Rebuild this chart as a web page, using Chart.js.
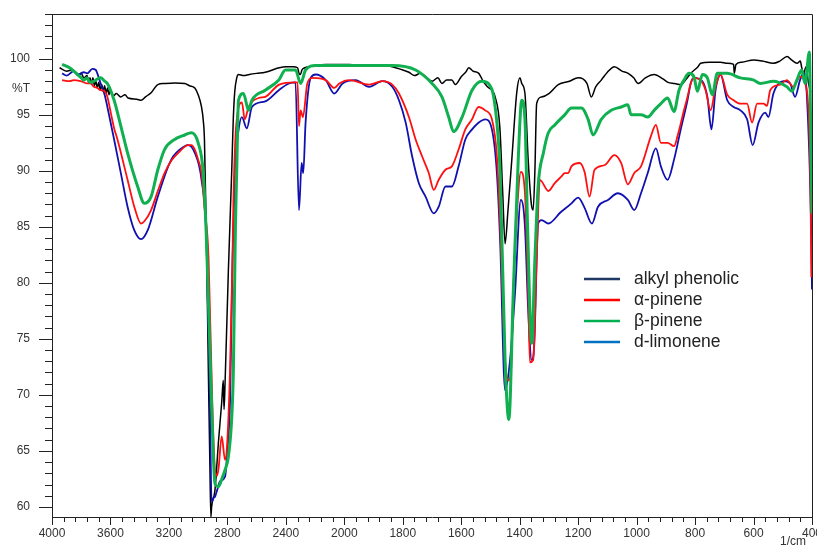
<!DOCTYPE html>
<html>
<head>
<meta charset="utf-8">
<script src="https://cdn.jsdelivr.net/npm/chart.js@4.4.1/dist/chart.umd.min.js"></script>
<style>
  html, body { margin: 0; padding: 0; background: #fff; }
  #wrap { width: 817px; height: 545px; }
</style>
</head>
<body>
<div id="wrap"><canvas id="irChart"></canvas></div>
<script>
// names shown in the legend
const seriesNames = ['alkyl phenolic', 'α-pinene', 'β-pinene', 'd-limonene'];
// axis labels
const xTickLabels = [4000, 3600, 3200, 2800, 2400, 2000, 1800, 1600, 1400, 1200, 1000, 800, 600, 400];
const yTickLabels = [60, 65, 70, 75, 80, 85, 90, 95, 100];

// alkyl phenolic (black)
const phenolicWn = [3948, 3900, 3860, 3820, 3800, 3782, 3760, 3750, 3740, 3730, 3720, 3710, 3700, 3690, 3680, 3670, 3660, 3650, 3640, 3630, 3620, 3610, 3600, 3580, 3560, 3530, 3500, 3480, 3420, 3390, 3360, 3320, 3276, 3230, 3160, 3092, 3060, 3023, 3000, 2977, 2965, 2957, 2943, 2930, 2920, 2913, 2908, 2885, 2860, 2839, 2828, 2823, 2816, 2793, 2770, 2760, 2750, 2736, 2724, 2690, 2650, 2600, 2541, 2446, 2400, 2350, 2320, 2310, 2300, 2290, 2270, 2200, 2127, 1983, 1930, 1870, 1836, 1800, 1779, 1760, 1740, 1722, 1700, 1680, 1666, 1650, 1632, 1620, 1600, 1585, 1574, 1560, 1540, 1525, 1510, 1484, 1468, 1458, 1450, 1440, 1427, 1410, 1399, 1393, 1382, 1371, 1360, 1354, 1348, 1342, 1325, 1300, 1268, 1230, 1200, 1170, 1155, 1140, 1121, 1100, 1076, 1050, 1029, 1010, 995, 970, 940, 910, 893, 870, 849, 830, 815, 790, 781, 750, 713, 690, 668, 666, 660, 640, 599, 570, 532, 510, 485, 470, 451, 440, 435, 429, 420, 412, 404];
const phenolicT = [99.2, 98.9, 99.0, 98.5, 98.7, 98.3, 98.5, 97.9, 98.3, 97.7, 98.3, 97.6, 98.0, 97.4, 97.9, 97.2, 97.7, 97.1, 97.6, 96.9, 97.4, 96.8, 97.2, 96.7, 96.9, 96.6, 96.8, 96.5, 96.4, 96.3, 96.6, 97.0, 97.7, 97.8, 97.85, 97.8, 97.6, 97.4, 96.8, 95.7, 94.5, 92.8, 83.8, 72, 64, 59.1, 60.0, 61.5, 66, 69.3, 71.3, 68.7, 71, 81.2, 90.1, 94.5, 97.0, 98.3, 98.6, 98.5, 98.6, 98.7, 98.8, 99.2, 99.3, 99.3, 99.2, 98.7, 98.6, 99.0, 99.2, 99.4, 99.5, 99.5, 99.4, 99.4, 99.3, 99.0, 98.8, 98.5, 98.7, 98.4, 98.0, 98.3, 97.8, 98.1, 98.1, 97.7, 98.4, 98.8, 99.2, 98.9, 98.7, 98.0, 97.5, 96.6, 93.9, 88.0, 83.5, 86.5, 91.0, 97.0, 98.3, 97.8, 96.9, 91.0, 87, 86.5, 90, 96.0, 96.6, 96.9, 97.7, 98.0, 98.3, 97.8, 96.6, 97.5, 98.1, 98.8, 99.3, 98.9, 98.7, 98.3, 97.8, 98.3, 98.6, 98.2, 97.9, 97.8, 97.7, 98.2, 98.7, 99.3, 99.6, 99.7, 99.7, 99.6, 99.5, 98.7, 99.5, 99.7, 99.9, 99.8, 99.6, 99.8, 100.2, 99.9, 99.6, 99.8, 99.2, 98.7, 99.3, 97.8, 97.0];

// α-pinene (red)
const alphaWn = [3931, 3880, 3851, 3805, 3782, 3760, 3736, 3713, 3690, 3667, 3640, 3621, 3598, 3575, 3552, 3483, 3437, 3391, 3368, 3322, 3276, 3230, 3184, 3136, 3069, 3046, 3023, 3000, 2977, 2957, 2929, 2905, 2885, 2870, 2860, 2839, 2816, 2800, 2782, 2765, 2759, 2740, 2701, 2681, 2655, 2586, 2541, 2446, 2334, 2320, 2310, 2299, 2283, 2253, 2219, 2127, 2069, 2034, 1983, 1915, 1870, 1836, 1813, 1779, 1756, 1734, 1711, 1694, 1677, 1654, 1632, 1609, 1586, 1563, 1541, 1518, 1495, 1478, 1467, 1450, 1439, 1430, 1422, 1405, 1396, 1382, 1371, 1365, 1354, 1342, 1331, 1302, 1280, 1257, 1246, 1234, 1223, 1195, 1178, 1161, 1144, 1110, 1076, 1053, 1030, 1008, 985, 951, 934, 917, 894, 872, 860, 838, 826, 815, 804, 781, 764, 747, 730, 713, 690, 668, 645, 622, 605, 588, 566, 554, 543, 509, 486, 464, 441, 418, 406, 402, 400];
const alphaT = [98.1, 98.0, 98.1, 98.0, 97.9, 97.8, 97.8, 97.5, 97.4, 97.2, 97.1, 96.6, 95.2, 93.8, 92.8, 89.2, 86.8, 85.3, 85.5, 86.5, 88.2, 89.8, 90.9, 91.6, 92.3, 92.3, 91.9, 91.0, 89.8, 86.8, 82.3, 70, 63.3, 62.8, 63.5, 66.3, 64.2, 66, 72.2, 82, 87.1, 94, 96.1, 94.6, 95.7, 96.5, 96.6, 97.7, 97.9, 97.9, 94.0, 95.4, 94.8, 97.8, 98.3, 98.1, 97.4, 97.8, 98.1, 97.7, 98.0, 97.7, 96.9, 94.8, 92.8, 91.3, 89.8, 88.3, 89.2, 90.1, 90.4, 91.9, 93.7, 94.6, 95.7, 95.4, 94.6, 91.3, 85.3, 73.1, 71.3, 72, 79.1, 88.0, 89.9, 88.0, 79.1, 72.9, 73.1, 82.1, 89.2, 88.2, 88.9, 89.5, 89.8, 89.8, 90.4, 90.7, 89.9, 87.7, 90.1, 90.5, 91.4, 90.7, 88.8, 89.8, 90.4, 93.1, 94.1, 92.5, 92.5, 92.2, 93.1, 95.4, 96.6, 97.8, 98.3, 98.1, 97.2, 95.4, 97.5, 98.6, 96.8, 96.3, 96.0, 96.0, 94.3, 96.0, 96.0, 95.8, 97.2, 97.7, 98.1, 97.5, 98.4, 97.2, 90, 80.5];

// β-pinene (green)
const betaWn = [3931, 3880, 3851, 3800, 3782, 3760, 3740, 3713, 3690, 3667, 3640, 3621, 3575, 3529, 3483, 3414, 3368, 3322, 3276, 3230, 3161, 3092, 3046, 3000, 2965, 2943, 2910, 2885, 2862, 2830, 2816, 2793, 2770, 2759, 2745, 2736, 2724, 2690, 2655, 2632, 2541, 2448, 2403, 2334, 2299, 2265, 2196, 2069, 1983, 1836, 1756, 1700, 1666, 1643, 1626, 1597, 1563, 1529, 1507, 1484, 1467, 1450, 1437, 1422, 1405, 1393, 1382, 1373, 1359, 1348, 1337, 1319, 1302, 1280, 1246, 1223, 1189, 1166, 1149, 1121, 1087, 1053, 1030, 1019, 985, 962, 940, 917, 894, 872, 855, 838, 821, 804, 792, 775, 758, 741, 724, 690, 645, 599, 577, 532, 486, 469, 452, 435, 424, 409, 404, 400];
const betaT = [99.5, 99.2, 98.9, 98.3, 98.1, 98.3, 97.9, 98.0, 98.2, 98.3, 98.0, 97.8, 96.3, 94.0, 91.6, 88.6, 87.1, 87.7, 90.1, 91.9, 92.8, 93.2, 93.4, 92.5, 89.8, 83.8, 70, 62.1, 61.8, 62.8, 63.3, 64.5, 68, 72.2, 85, 90.1, 96.3, 96.9, 95.4, 96.3, 97.2, 98.1, 99.0, 99.0, 97.8, 99.0, 99.4, 99.4, 99.4, 99.4, 99.0, 97.8, 96.6, 94.8, 93.5, 94.8, 97.2, 98.0, 97.8, 95.7, 89.8, 73.1, 67.8, 79.1, 91.0, 96.3, 94.6, 85.0, 74.6, 82.1, 88.6, 91.6, 93.4, 94.1, 95.0, 95.6, 95.6, 94.6, 93.2, 94.6, 95.4, 95.7, 95.9, 95.0, 95.0, 94.8, 95.4, 96.0, 96.5, 95.3, 97.2, 98.1, 98.7, 98.4, 97.1, 98.6, 98.3, 96.8, 98.7, 98.7, 98.3, 98.1, 97.8, 98.0, 97.5, 97.1, 98.1, 99.0, 97.8, 100.6, 93, 86.2];

// d-limonene (blue)
const limoneneWn = [3931, 3900, 3851, 3820, 3782, 3759, 3724, 3700, 3690, 3667, 3640, 3621, 3575, 3529, 3483, 3437, 3391, 3345, 3276, 3184, 3092, 3069, 3023, 2977, 2943, 2920, 2908, 2895, 2885, 2870, 2850, 2816, 2800, 2782, 2765, 2748, 2725, 2701, 2667, 2632, 2541, 2448, 2379, 2334, 2310, 2292, 2281, 2265, 2230, 2196, 2127, 2069, 2012, 1961, 1915, 1870, 1836, 1813, 1790, 1768, 1745, 1722, 1694, 1677, 1654, 1632, 1609, 1586, 1563, 1541, 1518, 1495, 1478, 1467, 1450, 1433, 1416, 1396, 1382, 1371, 1359, 1350, 1337, 1325, 1302, 1260, 1223, 1212, 1200, 1178, 1153, 1132, 1098, 1064, 1030, 1008, 985, 962, 934, 917, 894, 872, 849, 826, 815, 804, 775, 758, 744, 730, 713, 690, 668, 645, 622, 603, 583, 560, 549, 532, 497, 475, 458, 441, 429, 418, 403, 400];
const limoneneT = [98.7, 98.5, 98.9, 98.6, 98.8, 98.7, 99.1, 99.0, 98.7, 97.8, 96.8, 95.7, 92.8, 89.8, 86.8, 84.7, 83.9, 84.7, 87.7, 91.0, 92.2, 92.3, 91.6, 89.2, 83.8, 70, 60.4, 60.8, 60.9, 61.5, 62.3, 62.7, 65, 69.3, 82, 90.1, 93.5, 94.8, 93.8, 95.7, 96.2, 97.2, 97.8, 97.9, 86.5, 90.7, 89.8, 94.3, 98.3, 98.6, 98.1, 96.9, 97.8, 98.1, 97.5, 98.0, 97.5, 96.3, 94.3, 91.3, 88.9, 87.7, 86.2, 86.8, 88.6, 88.6, 90.4, 92.8, 93.7, 94.3, 94.6, 93.7, 89.8, 83.8, 70.4, 73.1, 79.1, 87.4, 85.0, 77.6, 73.1, 74.6, 85.3, 85.6, 85.3, 86.3, 87.1, 87.4, 87.6, 86.7, 85.3, 86.8, 87.4, 88.0, 87.4, 86.5, 88.0, 89.8, 92.0, 90.4, 89.2, 91.0, 93.7, 96.3, 97.8, 98.3, 98.0, 96.6, 93.7, 97.2, 98.6, 96.3, 95.7, 95.4, 94.6, 92.3, 94.3, 95.2, 94.8, 96.9, 98.0, 97.8, 96.6, 98.1, 98.7, 96.9, 85, 79.4];

// the spectrometer plots 4000-2000 at half the scale of 2000-400
function toAxis(wn) {
  return wn >= 2000 ? (4000 - wn) / 2 : 1000 + (2000 - wn);
}

function points(wn, t) {
  return wn.map((w, i) => ({ x: toAxis(w), y: t[i] }));
}

const frameColor = '#222';

const frame = {
  id: 'frame',
  afterDraw(chart) {
    const { ctx, chartArea: a, scales: { x, y } } = chart;
    ctx.save();
    ctx.strokeStyle = frameColor;
    ctx.lineWidth = 1;
    ctx.beginPath();
    ctx.moveTo(a.left, a.top + 0.5);
    ctx.lineTo(a.right + 0.5, a.top + 0.5);
    ctx.lineTo(a.right + 0.5, a.bottom);
    ctx.stroke();
    // ticks: x every 40 axis units, y every 1 %T
    for (let u = 0; u <= 2600; u += 40) {
      const px = Math.round(x.getPixelForValue(u)) + 0.5;
      const len = u % 200 === 0 ? 8 : 5;
      ctx.beginPath();
      ctx.moveTo(px, a.bottom);
      ctx.lineTo(px, a.bottom + len);
      ctx.stroke();
    }
    for (let v = 60; v <= 104; v++) {
      const py = Math.round(y.getPixelForValue(v)) + 0.5;
      const len = v % 5 === 0 ? 13 : 7;
      ctx.beginPath();
      ctx.moveTo(a.left, py);
      ctx.lineTo(a.left - len, py);
      ctx.stroke();
    }
    ctx.fillStyle = '#333';
    ctx.font = '12px "Liberation Sans", Arial, sans-serif';
    ctx.textAlign = 'right';
    ctx.textBaseline = 'middle';
    ctx.fillText('%T', 30, y.getPixelForValue(97.3));
    ctx.textBaseline = 'top';
    ctx.fillText('1/cm', 806, 536);
    ctx.restore();
  }
};

const legendColors = ['#1f3864', '#ff0000', '#00b050', '#0070c0'];
const boxLegend = {
  id: 'boxLegend',
  afterDraw(chart) {
    const ctx = chart.ctx;
    ctx.save();
    ctx.font = '17.5px "Liberation Sans", Arial, sans-serif';
    ctx.textBaseline = 'middle';
    ctx.textAlign = 'left';
    seriesNames.forEach((name, i) => {
      const yy = 279 + i * 21;
      ctx.strokeStyle = legendColors[i];
      ctx.lineWidth = 2.5;
      ctx.beginPath();
      ctx.moveTo(584, yy);
      ctx.lineTo(620, yy);
      ctx.stroke();
      ctx.fillStyle = '#222';
      ctx.fillText(name, 634, yy);
    });
    ctx.restore();
  }
};

const ctx = document.getElementById('irChart').getContext('2d');
new Chart(ctx, {
  type: 'line',
  data: {
    datasets: [
      { label: seriesNames[0], data: points(phenolicWn, phenolicT), borderColor: '#000000', borderWidth: 1.5, order: 3 },
      { label: seriesNames[1], data: points(alphaWn, alphaT), borderColor: '#ff1010', borderWidth: 1.8, order: 1 },
      { label: seriesNames[2], data: points(betaWn, betaT), borderColor: '#10b050', borderWidth: 3, order: 0 },
      { label: seriesNames[3], data: points(limoneneWn, limoneneT), borderColor: '#1010b0', borderWidth: 1.8, order: 2 },
    ],
  },
  options: {
    responsive: true,
    maintainAspectRatio: false,
    animation: false,
    layout: { padding: { top: 14, right: 5, left: 0, bottom: 0 } },
    elements: {
      point: { radius: 0 },
      line: { cubicInterpolationMode: 'monotone', fill: false },
    },
    plugins: {
      legend: { display: false },
      tooltip: { enabled: false },
    },
    scales: {
      x: {
        type: 'linear',
        min: 0,
        max: 2600,
        grid: { display: false, drawTicks: false },
        border: { display: true, color: frameColor },
        afterFit(scale) {
          scale.height = 28;
          scale.paddingLeft = 0;
          scale.paddingRight = 0;
        },
        afterBuildTicks(scale) {
          scale.ticks = xTickLabels.map(w => ({ value: toAxis(w), label: String(w) }));
        },
        ticks: {
          autoSkip: false,
          maxRotation: 0,
          padding: 9,
          color: '#333',
          font: { family: '"Liberation Sans", Arial, sans-serif', size: 12 },
          callback(value, i) { return String(xTickLabels[i]); },
        },
      },
      y: {
        min: 59.1,
        max: 104,
        grid: { display: false, drawTicks: false },
        border: { display: true, color: frameColor },
        afterFit(scale) {
          scale.width = 52;
          scale.paddingTop = 0;
          scale.paddingBottom = 0;
        },
        afterBuildTicks(scale) {
          scale.ticks = yTickLabels.map(v => ({ value: v }));
        },
        ticks: {
          padding: 22,
          color: '#333',
          font: { family: '"Liberation Sans", Arial, sans-serif', size: 12 },
          callback(value) { return String(value); },
        },
      },
    },
  },
  plugins: [frame, boxLegend],
});
</script>
</body>
</html>
